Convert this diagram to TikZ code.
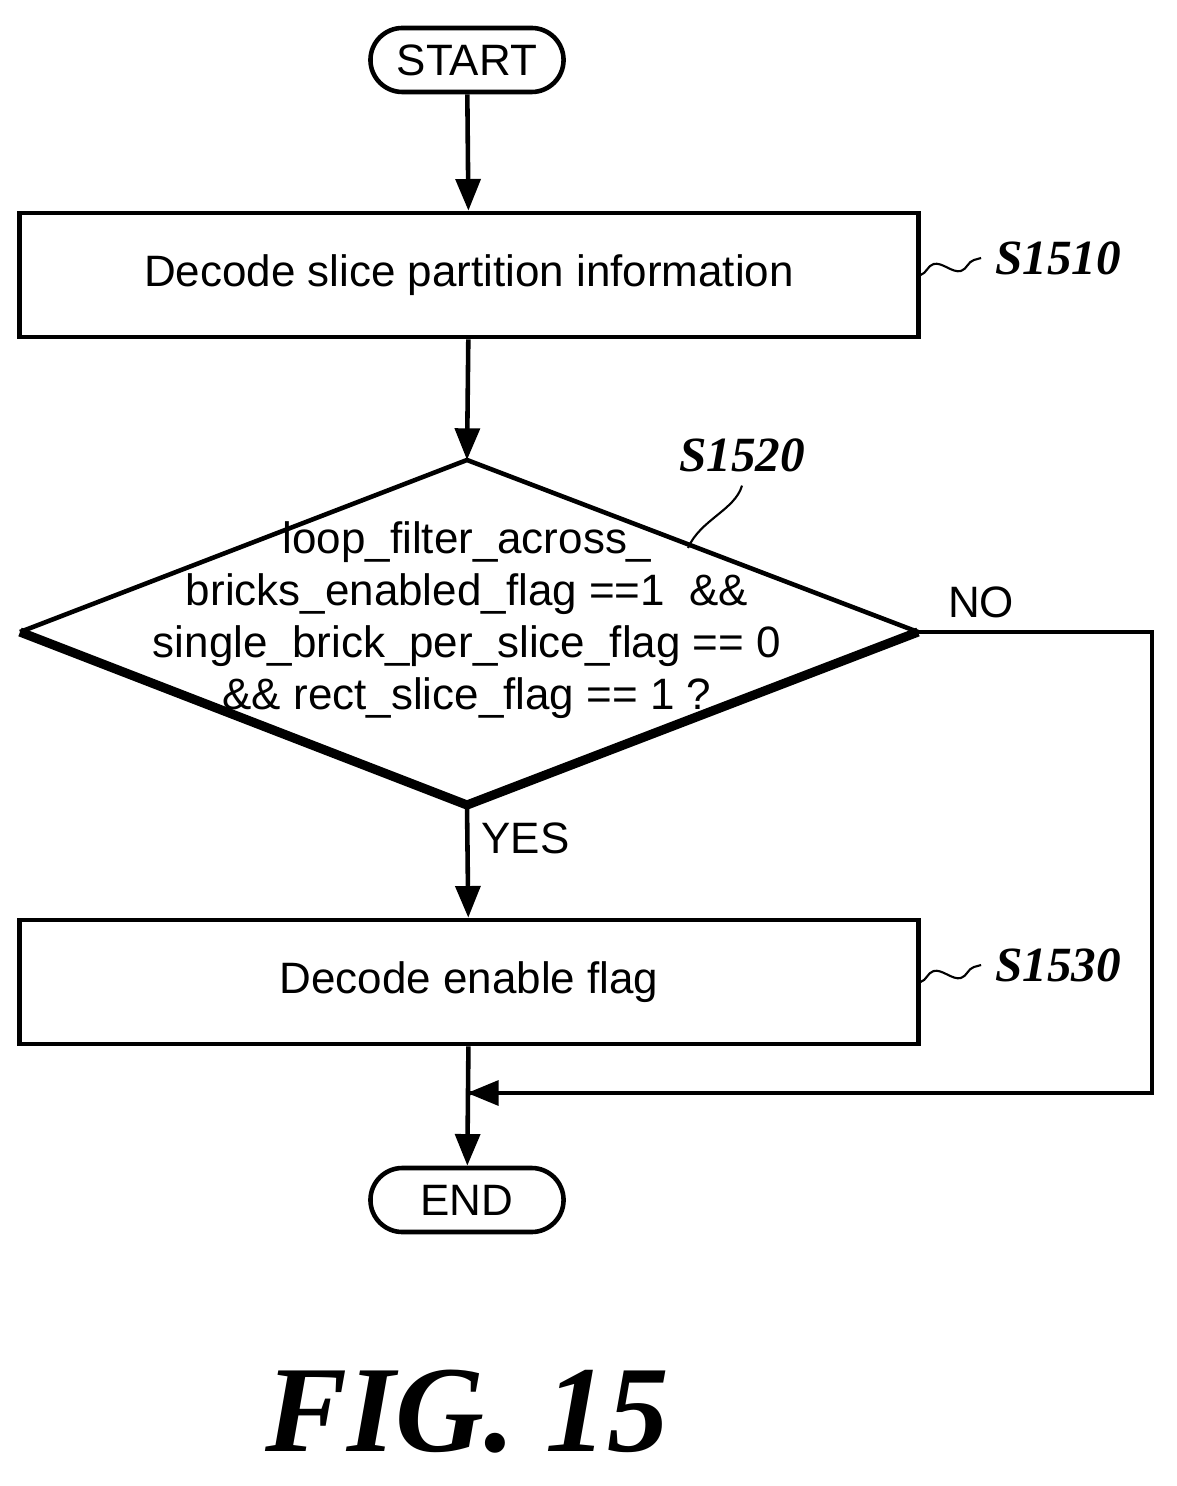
\documentclass[tikz,border=0pt]{standalone}
\usepackage{fontspec}
\setmainfont{Liberation Sans}
\newfontfamily\labfont{Liberation Serif}
\usetikzlibrary{arrows.meta,shapes.geometric,decorations.pathmorphing}
\begin{document}
\begin{tikzpicture}[x=0.01cm,y=-0.01cm,>={Triangle[length=9pt,width=7pt]},
    line width=1.3pt,
    every node/.style={font=\fontsize{12.5}{16}\selectfont},
    term/.style={draw,rounded corners=0.32cm,minimum width=1.93cm,minimum height=0.64cm,inner sep=0pt},
    proc/.style={draw,minimum width=8.98cm,minimum height=1.24cm,inner sep=0pt},
    steplabel/.style={font=\fontsize{14}{17}\labfont\bfseries\itshape},
    squig/.style={line width=0.6pt,decorate,decoration={snake,amplitude=2pt,segment length=14pt}}]
    \useasboundingbox (0,0) rectangle (1177,1486);

    % Terminals and steps.
    \node[term] (start) at (467,60) {START};
    \node[proc] (s1510) at (469,275) {Decode slice partition information};
    \coordinate (dt) at (467,460);
    \coordinate (dl) at (20,632);
    \coordinate (dr) at (918,632);
    \coordinate (db) at (467,805);
    \draw (dl) -- (dt) -- (dr);
    \draw[line width=2.6pt] (dl) -- (db) -- (dr);
    \node[align=center,font=\fontsize{12.5}{14.8}\selectfont] (cond) at (467,620)
        {loop\_filter\_across\_\\bricks\_enabled\_flag ==1 \ \&\&\\single\_brick\_per\_slice\_flag == 0\\\&\& rect\_slice\_flag == 1 ?};
    \node[proc] (s1530) at (469,982) {Decode enable flag};
    \node[term] (end) at (467,1200) {END};
    \coordinate (join) at (467,1093);
    \coordinate (nocorner) at (1152,632);

    % Step labels.
    \node[steplabel] (l1510) at (1058,258) {S1510};
    \node[steplabel] (l1520) at (742,455) {S1520};
    \node[steplabel] (l1530) at (1058,965) {S1530};
    \draw[squig] (s1510.east) -- (l1510.west);
    \draw[squig] (s1530.east) -- (l1530.west);
    \draw[line width=0.6pt] (l1520.south) .. controls (735,510) and (700,520) .. (688,548);

    % Connections.
    \draw[->] (start) -- (s1510);
    \draw[->] (s1510) -- (dt);
    \draw[->] (db) -- node[right,pos=0.3] {YES} (s1530);
    \draw (dr) -- node[above,pos=0.27] {NO} (nocorner) |- (join);
    \draw[->] (nocorner |- join) -- (join);
    \draw[->] (s1530) -- (end);

    % Caption.
    \node[font=\fontsize{35}{40}\labfont\bfseries\itshape] (fig) at (467,1412) {FIG. 15};
\end{tikzpicture}
\end{document}
